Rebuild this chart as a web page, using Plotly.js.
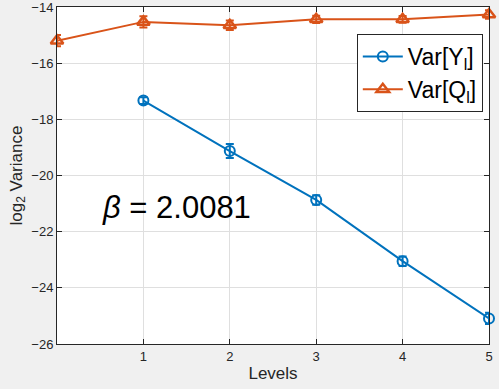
<!DOCTYPE html>
<html>
<head>
<meta charset="utf-8">
<script src="https://cdn.plot.ly/plotly-3.0.1.min.js"></script>
<style>
  html, body { margin: 0; padding: 0; background: #f0f0f0; }
  #chart { width: 499px; height: 389px; }
</style>
</head>
<body>
<div id="chart"></div>
<script>
// Levels and log2 variances
let levelsY = [1, 2, 3, 4, 5];
let varY = [-17.33, -19.13, -20.87, -23.05, -25.09];
let errY = [0.12, 0.25, 0.17, 0.17, 0.2];

let levelsQ = [0, 1, 2, 3, 4, 5];
let varQ = [-15.2, -14.53, -14.65, -14.44, -14.44, -14.27];
let errQ = [0.2, 0.2, 0.17, 0.13, 0.12, 0.15];

let xTicks = [1, 2, 3, 4, 5];
let yTicks = [-26, -24, -22, -20, -18, -16, -14];

let font = 'Liberation Sans, Arial, sans-serif';
let axisColor = '#262626';

let data = [{
    x: levelsY,
    y: varY,
    error_y: { type: 'data', array: errY, color: '#0072BD', thickness: 2, width: 4 },
    name: 'Var[Y<sub>l</sub>]',
    mode: 'lines+markers',
    line: { color: '#0072BD', width: 2 },
    marker: { symbol: 'circle-open', size: 10, color: '#0072BD', line: { width: 2, color: '#0072BD' } },
    cliponaxis: false,
}, {
    x: levelsQ,
    y: varQ,
    error_y: { type: 'data', array: errQ, color: '#D95319', thickness: 2, width: 4 },
    name: 'Var[Q<sub>l</sub>]',
    mode: 'lines+markers',
    line: { color: '#D95319', width: 2 },
    marker: { symbol: 'triangle-up-open', size: 11, color: '#D95319', line: { width: 2.5, color: '#D95319' } },
    cliponaxis: false,
}];

let layout = {
    width: 499,
    height: 389,
    margin: { l: 57, r: 10, t: 7, b: 45 },
    paper_bgcolor: '#f0f0f0',
    plot_bgcolor: '#ffffff',
    font: { family: font, size: 13, color: axisColor },
    xaxis: {
        range: [0, 5],
        tickvals: xTicks,
        ticks: 'inside',
        ticklen: 5,
        tickcolor: axisColor,
        showline: true,
        linecolor: axisColor,
        linewidth: 1,
        mirror: 'ticks',
        showgrid: true,
        gridcolor: '#dfdfdf',
        zeroline: false,
        ticklabeloverflow: 'allow',
        tickfont: { family: font, size: 13, color: axisColor },
        title: { text: 'Levels', font: { family: font, size: 17, color: axisColor }, standoff: 4 },
    },
    yaxis: {
        range: [-26, -14],
        tickvals: yTicks,
        ticks: 'inside',
        ticklen: 5,
        tickcolor: axisColor,
        showline: true,
        linecolor: axisColor,
        linewidth: 1,
        mirror: 'ticks',
        showgrid: true,
        gridcolor: '#dfdfdf',
        zeroline: false,
        ticklabeloverflow: 'allow',
        tickfont: { family: font, size: 13, color: axisColor },
        title: { text: 'log<sub>2</sub> Variance', font: { family: font, size: 17, color: axisColor }, standoff: 4 },
    },
    legend: {
        x: 0.694,
        y: 0.92,
        xanchor: 'left',
        yanchor: 'top',
        bgcolor: '#ffffff',
        bordercolor: axisColor,
        borderwidth: 1,
        itemwidth: 40,
        tracegroupgap: 6,
        font: { family: font, size: 23, color: '#000000' },
    },
    annotations: [{
        x: 0.5,
        y: -21.15,
        xref: 'x',
        yref: 'y',
        xanchor: 'left',
        yanchor: 'middle',
        showarrow: false,
        text: '<i>β</i> = 2.0081',
        font: { family: font, size: 31, color: '#000000' },
    }],
    showlegend: true,
};

let config = { displayModeBar: false, staticPlot: true };

Plotly.newPlot('chart', data, layout, config);
</script>
</body>
</html>
